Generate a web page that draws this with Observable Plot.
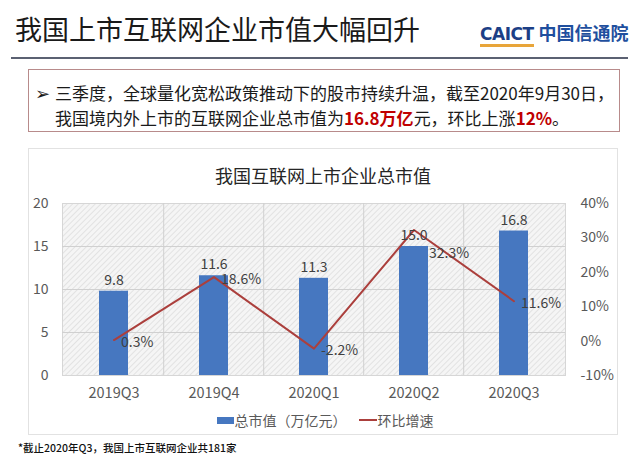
<!DOCTYPE html>
<html>
<head>
<meta charset="utf-8">
<script src="https://cdn.jsdelivr.net/npm/d3@7"></script>
<script src="https://cdn.jsdelivr.net/npm/@observablehq/plot@0.6"></script>
<style>
  html, body { margin: 0; padding: 0; background: #fff; }
  body { width: 640px; height: 462px; position: relative; overflow: hidden;
         font-family: "Noto Sans CJK SC", "Noto Sans", sans-serif; }
  .abs { position: absolute; white-space: nowrap; }
  #title { left: 15px; top: 13px; font-size: 27px; line-height: 32px; color: #1a1a1a; }
  #logo { left: 480px; top: 20px; font-size: 18px; line-height: 24px; font-weight: 700; color: #1f4f9e; }
  #logo .en { font-family: "DejaVu Sans", sans-serif; font-weight: 700; font-size: 17px; letter-spacing: -0.5px;
              border-bottom: 3px solid #e8a53a; padding-bottom: 0px; margin-right: 5px; color: #1c3f86; }
  #sep { left: 11px; top: 57px; width: 617px; height: 2px; background: #5b6172; }
  #box { left: 28px; top: 69px; width: 592px; height: 63px; border: 1.5px solid #b88b8b; box-sizing: border-box; }
  .bl { font-size: 17px; line-height: 25px; color: #1a1a1a; }
  .red { color: #c00000; font-weight: 700; }
  #panel { left: 28px; top: 148px; width: 590px; height: 287px; border: 1px solid #e2e2e2; box-sizing: border-box; background: #fff; }
  #ctitle { left: 0; width: 646px; text-align: center; top: 163px; font-size: 18px; line-height: 24px; color: #262626; }
  #chart { left: 0; top: 190px; }
  #legend { left: 0; width: 650px; top: 410px; display: flex; justify-content: center; align-items: center;
            font-size: 14px; line-height: 20px; color: #595959; }
  .sw { display: inline-block; width: 17px; height: 7px; background: #4677c0; margin-right: 1px; }
  .ln { display: inline-block; width: 18px; height: 2px; background: #ab3f3c; margin-left: 12px; margin-right: 1px; }
  #foot { left: 18px; top: 440px; font-size: 10.5px; line-height: 16px; color: #111; font-weight: 500; }
</style>
</head>
<body>
<div id="title" class="abs">我国上市互联网企业市值大幅回升</div>
<div id="logo" class="abs"><span class="en">CAICT</span>中国信通院</div>
<div id="sep" class="abs"></div>
<div id="box" class="abs"></div>
<div class="abs bl" style="left:35px; top:80px; font-size:18px;">➢</div>
<div class="abs bl" style="left:55px; top:80px;">三季度，全球量化宽松政策推动下的股市持续升温，截至2020年9月30日，</div>
<div class="abs bl" style="left:55px; top:105px;">我国境内外上市的互联网企业总市值为<span class="red">16.8万亿</span>元，环比上涨<span class="red">12%</span>。</div>
<div id="panel" class="abs"></div>
<div id="ctitle" class="abs">我国互联网上市企业总市值</div>
<div id="chart" class="abs"></div>
<div id="legend" class="abs"><span class="sw"></span><span>总市值（万亿元）</span><span class="ln"></span><span>环比增速</span></div>
<div id="foot" class="abs">*截止2020年Q3，我国上市互联网企业共181家</div>
<script>
const quarters = ["2019Q3", "2019Q4", "2020Q1", "2020Q2", "2020Q3"];
const marketCap = [9.8, 11.6, 11.3, 15.0, 16.8];      // 万亿元
const growth = [0.3, 18.6, -2.2, 32.3, 11.6];          // %
const leftTicks = [0, 5, 10, 15, 20];
const rightTicks = [-10, 0, 10, 20, 30, 40];

const leftMax = 20, rightMin = -10, rightMax = 40;
const toLeft = p => (p - rightMin) * leftMax / (rightMax - rightMin);

const data = quarters.map((q, i) => ({q, cap: marketCap[i], g: growth[i], i}));

const W = 640, H = 220, mL = 62, mR = 75, mT = 13, mB = 35;
const step = (W - mL - mR) / quarters.length;
const font = '"Noto Sans CJK SC", "Noto Sans", sans-serif';

const chart = Plot.plot({
  width: W, height: H,
  marginLeft: mL, marginRight: mR, marginTop: mT, marginBottom: mB,
  style: {fontFamily: font, fontSize: "14px", color: "#595959", background: "transparent", overflow: "visible"},
  x: {domain: quarters, paddingInner: 0.71, paddingOuter: 0.355, label: null, axis: null},
  y: {domain: [0, leftMax], label: null, axis: null},
  marks: [
    Plot.frame({fill: "url(#hatch)", stroke: "#d6d6d6"}),
    Plot.ruleY(leftTicks.slice(1, -1), {stroke: "#d0d0d0"}),
    Plot.ruleX(quarters.slice(1), {dx: -step / 2, stroke: "#d0d0d0"}),
    Plot.barY(data, {x: "q", y: "cap", fill: "#4677c0"}),
    Plot.line(data, {x: "q", y: d => toLeft(d.g), stroke: "#ab3f3c", strokeWidth: 2}),
    Plot.text(data, {x: "q", y: "cap", text: d => d.cap.toFixed(1), dy: -11, fontSize: 14, fill: "#404040"}),
    Plot.text(data.filter(d => d.i !== 3), {x: "q", y: d => toLeft(d.g), text: d => d.g + "%", dx: 7, dy: 2, textAnchor: "start", fontSize: 14, fill: "#404040"}),
    Plot.text(data.filter(d => d.i === 3), {x: "q", y: d => toLeft(d.g), text: d => d.g + "%", dx: 15, dy: 24, textAnchor: "start", fontSize: 14, fill: "#404040"}),
    Plot.axisY(leftTicks, {anchor: "left", tickSize: 0, tickPadding: 14, fontSize: 14, label: null}),
    Plot.axisY(rightTicks.map(toLeft), {anchor: "right", tickSize: 0, tickPadding: 15, fontSize: 14, label: null,
      tickFormat: (d, i) => rightTicks[i] + "%"}),
    Plot.axisX({tickSize: 0, tickPadding: 12, fontSize: 14.5, label: null})
  ]
});

const defs = document.createElementNS("http://www.w3.org/2000/svg", "defs");
defs.innerHTML = '<pattern id="hatch" patternUnits="userSpaceOnUse" width="4" height="4" patternTransform="rotate(45)">' +
  '<rect width="4" height="4" fill="#f5f5f5"/><line x1="0" y1="0" x2="0" y2="4" stroke="#d6d6d6" stroke-width="1.2"/></pattern>';
chart.prepend(defs);
document.getElementById("chart").appendChild(chart);
</script>
</body>
</html>
